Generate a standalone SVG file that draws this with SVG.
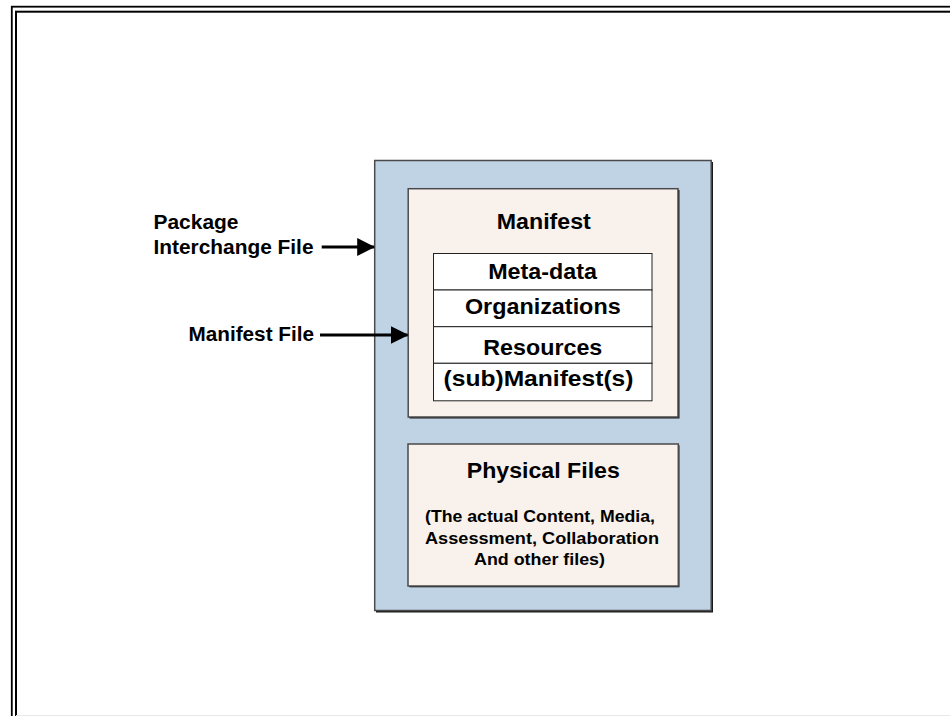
<svg xmlns="http://www.w3.org/2000/svg" width="950" height="716" viewBox="0 0 950 716">
<defs>
<style>
.t{font-family:"Liberation Sans",Arial,Helvetica,sans-serif;font-weight:bold;fill:#000}
.box{stroke:#4a4a4a;stroke-width:1.5}
.shadow{fill:#1a1a1a}
.blue{fill:#c0d3e5}
.beige{fill:#f9f1ec}
.row{fill:#ffffff;stroke:#222;stroke-width:1}
.conn{stroke:#000;stroke-width:3;fill:none}
</style>
<marker id="ah" markerWidth="6" markerHeight="6" refX="5.6" refY="3" orient="auto" markerUnits="strokeWidth">
<path d="M0,0 L6,3 L0,6 Z" fill="#000"/>
</marker>
</defs>
<rect x="0" y="0" width="950" height="716" fill="#ffffff"/>
<g id="frame" fill="none" stroke="#000">
<rect x="11.8" y="6.7" width="960" height="730" stroke-width="1.8"/>
<rect x="16" y="11.7" width="960" height="730" stroke-width="2"/>
<line x1="16" y1="715.5" x2="950" y2="715.5" stroke="#e8e8e8" stroke-width="1"/>
</g>
<g id="package">
<rect class="shadow" x="376" y="162" width="337" height="450.5"/>
<rect class="box blue" x="374.7" y="160.5" width="336.5" height="450"/>
</g>
<g id="manifest">
<rect class="shadow" x="409.5" y="190" width="270" height="228.5"/>
<rect class="box beige" x="408.2" y="188.7" width="269.8" height="228.3"/>
<text class="t" x="543.8" y="228.5" font-size="22" text-anchor="middle" textLength="94" lengthAdjust="spacingAndGlyphs">Manifest</text>
</g>
<g id="metadata">
<rect class="row" x="433.5" y="253.5" width="218.5" height="36.5"/>
<text class="t" x="542.5" y="278.5" font-size="22" text-anchor="middle" textLength="108.7" lengthAdjust="spacingAndGlyphs">Meta-data</text>
</g>
<g id="organizations">
<rect class="row" x="433.5" y="290" width="218.5" height="36.7"/>
<text class="t" x="542.8" y="314" font-size="22" text-anchor="middle" textLength="155.7" lengthAdjust="spacingAndGlyphs">Organizations</text>
</g>
<g id="resources">
<rect class="row" x="433.5" y="326.7" width="218.5" height="36.6"/>
<text class="t" x="542.8" y="354.5" font-size="22" text-anchor="middle" textLength="119" lengthAdjust="spacingAndGlyphs">Resources</text>
</g>
<g id="submanifests">
<rect class="row" x="433.5" y="363.3" width="218.5" height="37.5"/>
<text class="t" x="538.5" y="386" font-size="22" text-anchor="middle" textLength="190" lengthAdjust="spacingAndGlyphs">(sub)Manifest(s)</text>
</g>
<g id="physical">
<rect class="shadow" x="409.5" y="445.3" width="270" height="142"/>
<rect class="box beige" x="408" y="444" width="270.3" height="142"/>
<text class="t" x="543.3" y="478" font-size="22" text-anchor="middle" textLength="153" lengthAdjust="spacingAndGlyphs">Physical Files</text>
<text class="t" x="540" y="522" font-size="17.3" text-anchor="middle" textLength="230" lengthAdjust="spacingAndGlyphs">(The actual Content, Media,</text>
<text class="t" x="542" y="543.5" font-size="17.3" text-anchor="middle" textLength="234" lengthAdjust="spacingAndGlyphs">Assessment, Collaboration</text>
<text class="t" x="539.5" y="565" font-size="17.3" text-anchor="middle" textLength="131" lengthAdjust="spacingAndGlyphs">And other files)</text>
</g>
<g id="label-package">
<text class="t" x="153.5" y="228.5" font-size="19.5" textLength="85" lengthAdjust="spacingAndGlyphs">Package</text>
<text class="t" x="153.5" y="253.5" font-size="19.5" textLength="160" lengthAdjust="spacingAndGlyphs">Interchange File</text>
</g>
<g id="label-manifest">
<text class="t" x="188.5" y="341" font-size="19.5" textLength="125.5" lengthAdjust="spacingAndGlyphs">Manifest File</text>
</g>
<g id="connectors">
<line class="conn" x1="321.7" y1="247" x2="374" y2="247" marker-end="url(#ah)"/>
<line class="conn" x1="320" y1="335" x2="407.5" y2="335" marker-end="url(#ah)"/>
</g>
</svg>
